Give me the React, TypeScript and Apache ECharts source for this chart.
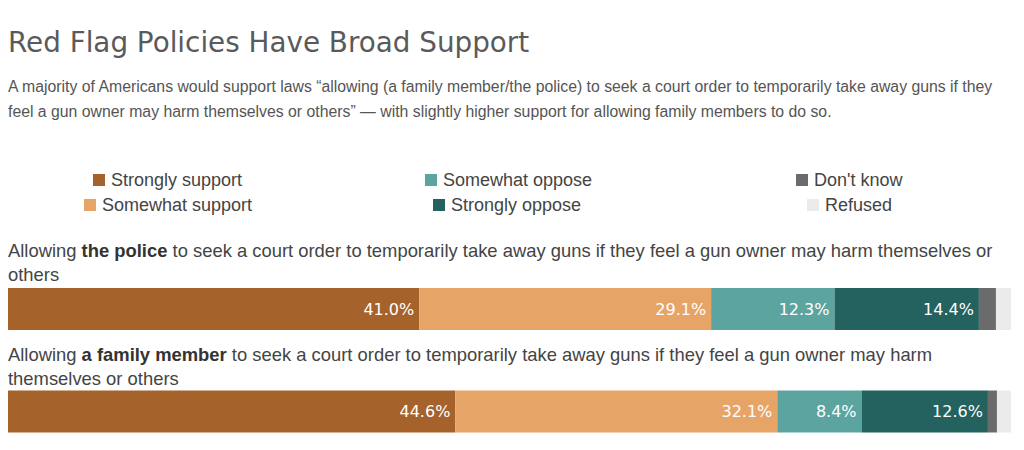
import React, { useEffect, useRef } from "react";
import * as echarts from "echarts";

const categories = ["the police", "a family member"];
const seriesNames = ["Strongly support", "Somewhat support", "Somewhat oppose", "Strongly oppose", "Don't know", "Refused"];
const stronglySupport = [41.0, 44.6];
const somewhatSupport = [29.1, 32.1];
const somewhatOppose = [12.3, 8.4];
const stronglyOppose = [14.4, 12.6];
const dontKnow = [1.7, 0.9];
const refused = [1.5, 1.4];
const colors = ["#A5632B", "#E6A467", "#5CA4A0", "#23625F", "#6B6B6B", "#EBEBEB"];
const showLabels = [true, true, true, true, false, false];

const title = "Red Flag Policies Have Broad Support";
const subtitleLines = [
  "A majority of Americans would support laws \u201callowing (a family member/the police) to seek a court order to temporarily take away guns if they",
  "feel a gun owner may harm themselves or others\u201d \u2014 with slightly higher support for allowing family members to do so.",
];
const question1Lines = [
  "Allowing {b|the police} to seek a court order to temporarily take away guns if they feel a gun owner may harm themselves or",
  "others",
];
const question2Lines = [
  "Allowing {b|a family member} to seek a court order to temporarily take away guns if they feel a gun owner may harm",
  "themselves or others",
];

const legendPos = [
  { left: 93, top: 171 },
  { left: 84, top: 196 },
  { left: 425, top: 171 },
  { left: 433, top: 196 },
  { left: 796, top: 171 },
  { left: 807, top: 196 },
];

export default function App() {
  const ref = useRef<HTMLDivElement>(null);
  useEffect(() => {
    if (!ref.current) return;
    const chart = echarts.init(ref.current, undefined, { renderer: "svg" });
    const allData = [stronglySupport, somewhatSupport, somewhatOppose, stronglyOppose, dontKnow, refused];
    const sans = "'Liberation Sans', Arial, sans-serif";
    const labelFont = "'DejaVu Sans', sans-serif";

    const textEl = (text: string, x: number, y: number, size: number, color: string, family: string, rich?: boolean) => ({
      type: "text",
      x,
      y,
      style: {
        text,
        fill: color,
        fontSize: size,
        fontFamily: family,
        verticalAlign: "middle",
        align: "left",
        ...(rich
          ? { rich: { b: { fontWeight: "bold", fontSize: size, fontFamily: family, fill: "#333", color: "#333" } } }
          : {}),
      },
    });

    chart.setOption({
      animation: false,
      backgroundColor: "#ffffff",
      legend: seriesNames.map((n, i) => ({
        data: [n],
        left: legendPos[i].left,
        top: legendPos[i].top,
        padding: 0,
        itemWidth: 12,
        itemHeight: 12,
        icon: "rect",
        selectedMode: false,
        textStyle: { fontSize: 18, color: "#444", fontFamily: sans, padding: [0, 0, 0, 1] },
      })),
      grid: { left: 8, width: 1003, top: 309, height: 102.5 },
      xAxis: { type: "value", min: 0, max: 100, show: false },
      yAxis: { type: "category", data: categories, inverse: true, show: false, boundaryGap: false },
      graphic: [
        textEl(title, 8, 42, 27.8, "#5a5a5a", "'DejaVu Sans', sans-serif"),
        textEl(subtitleLines[0], 8, 86, 15.8, "#555", sans),
        textEl(subtitleLines[1], 8, 111, 15.8, "#555", sans),
        textEl(question1Lines[0], 8, 250, 18.4, "#444", sans, true),
        textEl(question1Lines[1], 8, 274, 18.4, "#444", sans, true),
        textEl(question2Lines[0], 8, 354, 18.4, "#444", sans, true),
        textEl(question2Lines[1], 8, 378, 18.4, "#444", sans, true),
      ],
      series: seriesNames.map((n, i) => ({
        name: n,
        type: "bar",
        stack: "total",
        barWidth: 42,
        clip: false,
        data: allData[i],
        itemStyle: { color: colors[i] },
        label: {
          show: showLabels[i],
          position: "insideRight",
          distance: 5,
          color: "#ffffff",
          fontSize: 16,
          fontFamily: labelFont,
          formatter: (p: any) => `${Number(p.value).toFixed(1)}%`,
        },
        emphasis: { disabled: true },
      })),
    });
    return () => chart.dispose();
  }, []);
  return (
    <div
      ref={ref}
      style={{ position: "fixed", left: 0, top: 0, width: 1024, height: 450 }}
    />
  );
}
